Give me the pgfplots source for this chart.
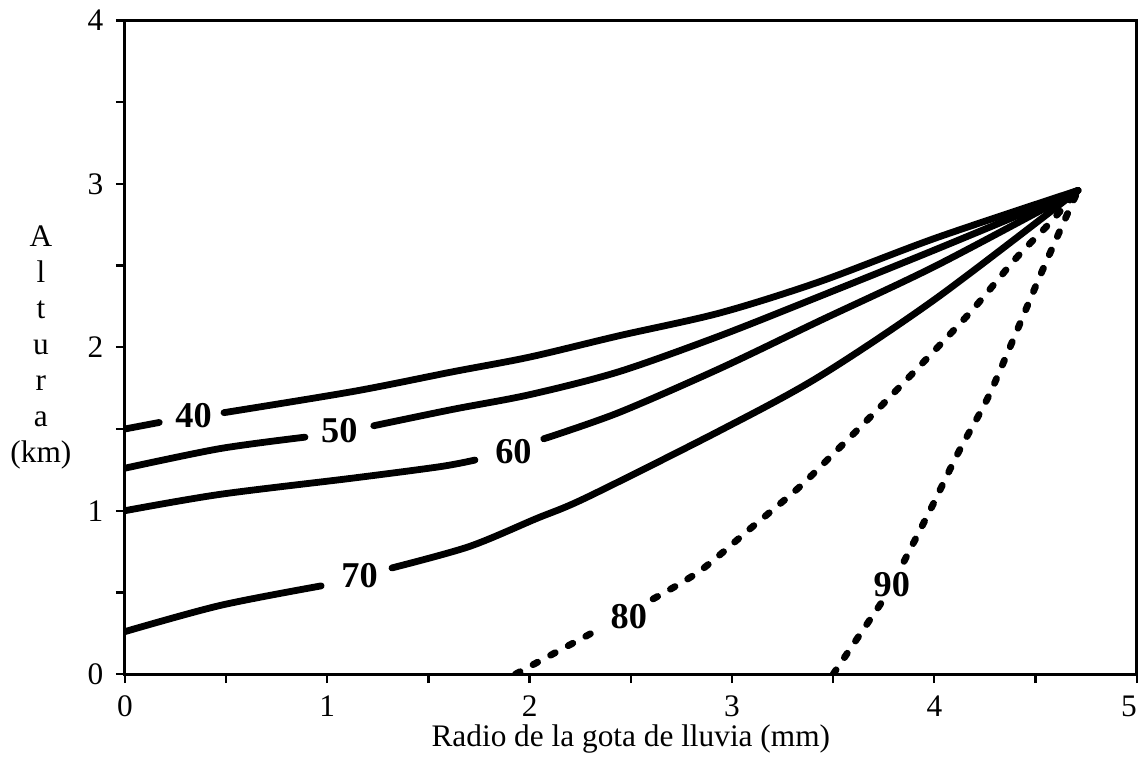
\documentclass[border=0pt]{standalone}
\usepackage{fontspec}
\setmainfont{Liberation Serif}
\usepackage{pgfplots}
\pgfplotsset{compat=1.18}
\tikzset{
  solidc/.style={black, line width=3pt, line cap=round, line join=round, smooth},
  dotc/.style={black, line width=3pt, line cap=round, line join=round, dash pattern=on 2.3pt off 6.5pt, smooth},
  clabel/.style={font=\fontsize{16}{16}\selectfont\bfseries},
}
\begin{document}
\begin{tikzpicture}
\begin{axis}[
  name=ax,
  scale only axis, width=445.8pt, height=288pt,
  xmin=0, xmax=5, ymin=0, ymax=4,
  xtick={0,1,2,3,4,5}, minor xtick={0.5,1.5,2.5,3.5,4.5},
  xticklabels={0,1,2,3,4,\makebox[0pt][r]{5}},
  ytick={0,1,2,3,4}, minor ytick={0.5,1.5,2.5,3.5},
  tick align=outside, xtick pos=bottom, ytick pos=left,
  major tick length=4pt, minor tick length=4pt,
  every tick/.style={black, line width=1pt},
  axis line style={line width=1.2pt},
  tick label style={font=\fontsize{13.8}{15}\selectfont},
  xticklabel style={yshift=-2pt},
  yticklabel style={xshift=-2pt},
  /pgf/number format/assume math mode=true,
  xlabel={Radio de la gota de lluvia (mm)},
  every axis x label/.style={at={(axis description cs:0.5,0)}, anchor=base, yshift=-32pt, font=\fontsize{13.8}{15}\selectfont},
  ylabel={A\\l\\t\\u\\r\\a\\(km)},
  every axis y label/.style={at={(axis description cs:0,0.5)}, anchor=center, xshift=-37pt, align=center, font=\fontsize{13.8}{15.9}\selectfont},
  no marks,
]
% 40
\addplot[solidc] coordinates {(0,1.50) (0.17,1.54)};
\addplot[solidc] coordinates {(0.49,1.60) (1.13,1.73) (1.62,1.85) (2.0,1.94) (2.44,2.07) (2.94,2.21) (3.43,2.40) (4.01,2.67) (4.71,2.96)};
% 50
\addplot[solidc] coordinates {(0,1.26) (0.47,1.38) (0.89,1.45)};
\addplot[solidc] coordinates {(1.23,1.52) (1.62,1.62) (2.0,1.71) (2.44,1.85) (2.94,2.07) (3.43,2.31) (4.01,2.60) (4.71,2.96)};
% 60
\addplot[solidc] coordinates {(0,1.0) (0.47,1.10) (1.13,1.20) (1.56,1.27) (1.73,1.31)};
\addplot[solidc] coordinates {(2.07,1.44) (2.44,1.60) (2.94,1.87) (3.43,2.16) (4.01,2.50) (4.71,2.96)};
% 70
\addplot[solidc] coordinates {(0,0.26) (0.47,0.42) (0.97,0.54)};
\addplot[solidc] coordinates {(1.32,0.65) (1.70,0.78) (2.03,0.95) (2.28,1.08) (2.94,1.49) (3.43,1.82) (4.01,2.30) (4.71,2.96)};
% 80
\addplot[dotc] coordinates {(1.93,0) (2.35,0.28)};
\addplot[dotc] coordinates {(2.61,0.46) (2.84,0.63) (3.09,0.89) (3.32,1.13) (3.47,1.31) (3.76,1.67) (4.16,2.19) (4.40,2.54) (4.57,2.76) (4.71,2.96)};
% 90
\addplot[dotc] coordinates {(3.5,0) (3.74,0.44)};
\addplot[dotc] coordinates {(3.85,0.69) (3.99,1.03) (4.12,1.36) (4.26,1.68) (4.37,1.99) (4.52,2.43) (4.63,2.74) (4.71,2.96)};
\node[clabel] at (axis cs:0.34,1.58) {40};
\node[clabel] at (axis cs:1.06,1.49) {50};
\node[clabel] at (axis cs:1.92,1.36) {60};
\node[clabel] at (axis cs:1.16,0.60) {70};
\node[clabel] at (axis cs:2.49,0.35) {80};
\node[clabel] at (axis cs:3.79,0.55) {90};
\end{axis}
\pgfresetboundingbox
\path[use as bounding box] ([shift={(-55pt,-39pt)}]ax.south west) rectangle ([shift={(1pt,9pt)}]ax.north east);
\end{tikzpicture}
\end{document}
